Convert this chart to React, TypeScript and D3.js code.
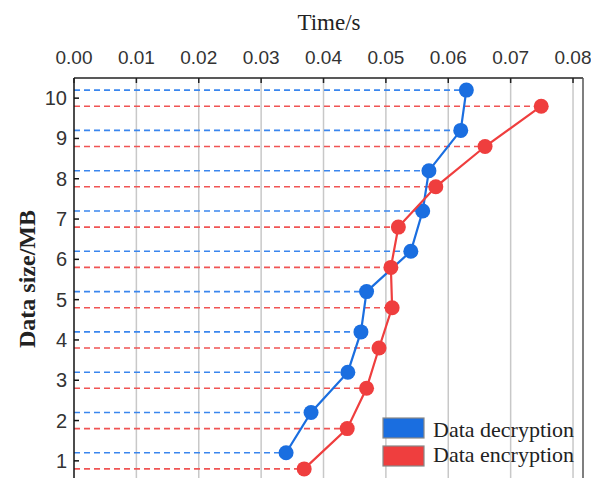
import React from "react";
import * as d3 from "d3";

const sizes = [1, 2, 3, 4, 5, 6, 7, 8, 9, 10];
const decryption = [0.034, 0.038, 0.0439, 0.046, 0.0469, 0.054, 0.0559, 0.0569, 0.062, 0.0629];
const encryption = [0.0369, 0.0438, 0.0469, 0.0489, 0.051, 0.0508, 0.052, 0.058, 0.0659, 0.0749];
const xTicks = [0, 0.01, 0.02, 0.03, 0.04, 0.05, 0.06, 0.07, 0.08];
const yTicks = [1, 2, 3, 4, 5, 6, 7, 8, 9, 10];
const seriesNames = ["Data decryption", "Data encryption"];

const W = 591, H = 478;
const left = 74, right = 583, top = 78, bottom = 481;
const BLUE = "#1a6ee0", RED = "#ef3e3e";
const BLUE_L = "#3a86ee", RED_L = "#f05454";
const SERIF = "serif";
const SANS = "Liberation Sans, Arial, sans-serif";

export default function App() {
  const x = d3.scaleLinear().domain([0, 0.0816]).range([left, right]);
  const y = d3.scaleLinear().domain([0.5, 10.5]).range([bottom, top]);
  const offset = 0.2;
  const series = [
    { name: seriesNames[0], vals: decryption, color: BLUE, light: BLUE_L, off: offset },
    { name: seriesNames[1], vals: encryption, color: RED, light: RED_L, off: -offset },
  ];
  const line = (vals: number[], off: number) =>
    d3.line<number>().x((v) => x(v)).y((_, i) => y(sizes[i] + off))(vals) || "";

  return (
    <svg width={W} height={H} style={{ position: "absolute", left: 0, top: 0, background: "#fff" }}>
      <rect x={0} y={0} width={W} height={H} fill="#fff" />
      {xTicks.slice(1).map((t) => (
        <line key={"g" + t} x1={x(t)} x2={x(t)} y1={top} y2={bottom} stroke="#c8c8c8" strokeWidth={1.5} />
      ))}
      {series.map((s) =>
        s.vals.map((v, i) => (
          <line
            key={s.name + "d" + i}
            x1={left}
            x2={x(v)}
            y1={y(sizes[i] + s.off)}
            y2={y(sizes[i] + s.off)}
            stroke={s.light}
            strokeWidth={1.6}
            strokeDasharray="6,4"
          />
        ))
      )}
      <line x1={left} x2={right} y1={top} y2={top} stroke="#222" strokeWidth={1.5} />
      <line x1={right} x2={right} y1={top} y2={bottom} stroke="#555" strokeWidth={1.5} />
      <line x1={left} x2={left} y1={top} y2={bottom} stroke="#111" strokeWidth={1.5} />
      {xTicks.map((t) => (
        <g key={"xt" + t}>
          <line x1={x(t)} x2={x(t)} y1={top} y2={top + 5} stroke="#222" strokeWidth={1.5} />
          <text x={x(t)} y={64} textAnchor="middle" fontFamily={SANS} fontSize={19} fill="#333">
            {t.toFixed(2)}
          </text>
        </g>
      ))}
      {yTicks.map((t) => (
        <g key={"yt" + t}>
          <line x1={left} x2={left + 5} y1={y(t)} y2={y(t)} stroke="#111" strokeWidth={1.5} />
          <text x={67} y={y(t) + 7} textAnchor="end" fontFamily={SANS} fontSize={20} fill="#333">
            {t}
          </text>
        </g>
      ))}
      {series.map((s) => (
        <g key={s.name}>
          <path d={line(s.vals, s.off)} fill="none" stroke={s.color} strokeWidth={2.2} />
          {s.vals.map((v, i) => (
            <circle key={i} cx={x(v)} cy={y(sizes[i] + s.off)} r={7.5} fill={s.color} />
          ))}
        </g>
      ))}
      <text x={329} y={30} textAnchor="middle" fontFamily={SERIF} fontSize={23} fill="#222">
        Time/s
      </text>
      <text
        transform={`translate(35,${279}) rotate(-90)`}
        textAnchor="middle"
        fontFamily={SERIF}
        fontSize={24}
        fontWeight="bold"
        fill="#222"
      >
        Data size/MB
      </text>
      {series.map((s, i) => (
        <g key={"lg" + i}>
          <rect x={383} y={418 + i * 28} width={41} height={20} fill={s.color} stroke="#888" strokeWidth={1.2} />
          <text x={433} y={437 + i * 25} fontFamily={SERIF} fontSize={22} fill="#222">
            {s.name}
          </text>
        </g>
      ))}
    </svg>
  );
}
